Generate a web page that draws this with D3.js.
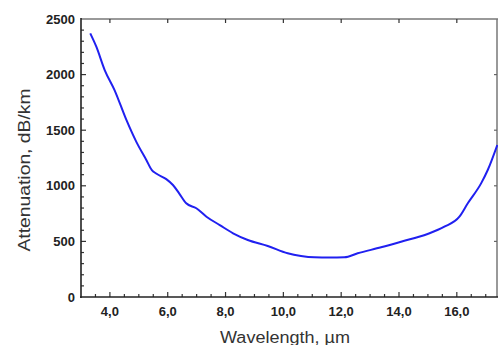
<!DOCTYPE html>
<html>
<head>
<meta charset="utf-8">
<script src="https://cdn.jsdelivr.net/npm/d3@7"></script>
<style>
  body { margin: 0; background: #fff; }
  svg { display: block; font-family: "Liberation Sans", Arial, sans-serif; }
</style>
</head>
<body>
<svg id="chart" width="498" height="345"></svg>
<script>
// Attenuation spectrum
const wavelength = [3.32, 3.53, 3.82, 4.16, 4.57, 4.91, 5.26, 5.45, 5.6, 5.95, 6.18, 6.4, 6.64, 6.99, 7.34, 7.8, 8.26, 8.77, 9.46, 10.15, 10.61, 11.07, 11.6, 12.11, 12.57, 13.38, 14.07, 14.99, 15.57, 16.09, 16.38, 16.84, 17.07, 17.4];
const attenuation = [2371, 2251, 2041, 1861, 1592, 1397, 1232, 1142, 1110, 1060, 1007, 930, 843, 798, 722, 647, 573, 513, 459, 393, 369, 357, 355, 357, 393, 447, 497, 567, 632, 722, 843, 1022, 1142, 1367];

const xTicks = [4, 6, 8, 10, 12, 14, 16];
const yTicks = [0, 500, 1000, 1500, 2000, 2500];

const svg = d3.select("#chart");
const plotLeft = 81, plotRight = 497, plotTop = 19, plotBottom = 297;

const x = d3.scaleLinear().domain([3, 17.39]).range([plotLeft, plotRight]);
const y = d3.scaleLinear().domain([0, 2500]).range([plotBottom, plotTop]);

const fmt = d => d.toFixed(1).replace(".", ",");

// frame: top and right in grey
svg.append("line").attr("x1", plotLeft).attr("x2", plotRight + 2).attr("y1", plotTop).attr("y2", plotTop)
    .attr("stroke", "#777").attr("stroke-width", 1.5);
svg.append("line").attr("x1", plotRight).attr("x2", plotRight).attr("y1", plotTop).attr("y2", plotBottom)
    .attr("stroke", "#777").attr("stroke-width", 1.5);

// minor ticks
const xMinor = d3.range(3.5, 17.4, 0.5);
const yMinor = d3.range(100, 2500, 100);

svg.append("g").selectAll("line").data(xMinor).enter().append("line")
    .attr("x1", d => x(d)).attr("x2", d => x(d))
    .attr("y1", plotBottom).attr("y2", d => plotBottom - (xTicks.includes(d) ? 5 : 3))
    .attr("stroke", "#333").attr("stroke-width", 1.2);

svg.append("g").selectAll("line").data(xTicks).enter().append("line")
    .attr("x1", d => x(d)).attr("x2", d => x(d))
    .attr("y1", plotTop).attr("y2", plotTop + 4)
    .attr("stroke", "#333").attr("stroke-width", 1.2);

svg.append("g").selectAll("line").data(yMinor).enter().append("line")
    .attr("x1", plotLeft).attr("x2", d => plotLeft + (d % 500 === 0 ? 5 : 3))
    .attr("y1", d => y(d)).attr("y2", d => y(d))
    .attr("stroke", "#333").attr("stroke-width", 1.2);

svg.append("g").selectAll("line").data(yTicks.slice(1, -1)).enter().append("line")
    .attr("x1", plotRight).attr("x2", plotRight - 3)
    .attr("y1", d => y(d)).attr("y2", d => y(d))
    .attr("stroke", "#666").attr("stroke-width", 1.2);

// main axes
svg.append("line").attr("x1", plotLeft).attr("x2", plotLeft).attr("y1", plotTop - 1).attr("y2", plotBottom + 1)
    .attr("stroke", "#222").attr("stroke-width", 1.6);
svg.append("line").attr("x1", plotLeft - 1).attr("x2", plotRight + 2).attr("y1", plotBottom).attr("y2", plotBottom)
    .attr("stroke", "#222").attr("stroke-width", 1.6);

// tick labels
svg.append("g").selectAll("text").data(xTicks).enter().append("text")
    .attr("x", d => x(d)).attr("y", 316)
    .attr("text-anchor", "middle")
    .attr("font-size", 13).attr("font-weight", "bold").attr("fill", "#222")
    .text(fmt);

svg.append("g").selectAll("text").data(yTicks).enter().append("text")
    .attr("x", 75).attr("y", d => y(d) + 4.5)
    .attr("text-anchor", "end")
    .attr("font-size", 13).attr("font-weight", "bold").attr("fill", "#222")
    .text(d => d);

// axis titles
svg.append("text")
    .attr("x", 285).attr("y", 343)
    .attr("text-anchor", "middle")
    .attr("font-size", 16).attr("fill", "#333")
    .attr("textLength", 130).attr("lengthAdjust", "spacingAndGlyphs")
    .text("Wavelength, \u00b5m");

svg.append("text")
    .attr("transform", "translate(30,170) rotate(-90)")
    .attr("text-anchor", "middle")
    .attr("font-size", 17).attr("fill", "#333")
    .attr("textLength", 163).attr("lengthAdjust", "spacingAndGlyphs")
    .text("Attenuation, dB/km");

// curve
const line = d3.line()
    .x((d, i) => x(wavelength[i]))
    .y(d => y(d))
    .curve(d3.curveMonotoneX);

svg.append("path")
    .datum(attenuation)
    .attr("d", line)
    .attr("fill", "none")
    .attr("stroke", "#2020f0")
    .attr("stroke-width", 2);
</script>
</body>
</html>
